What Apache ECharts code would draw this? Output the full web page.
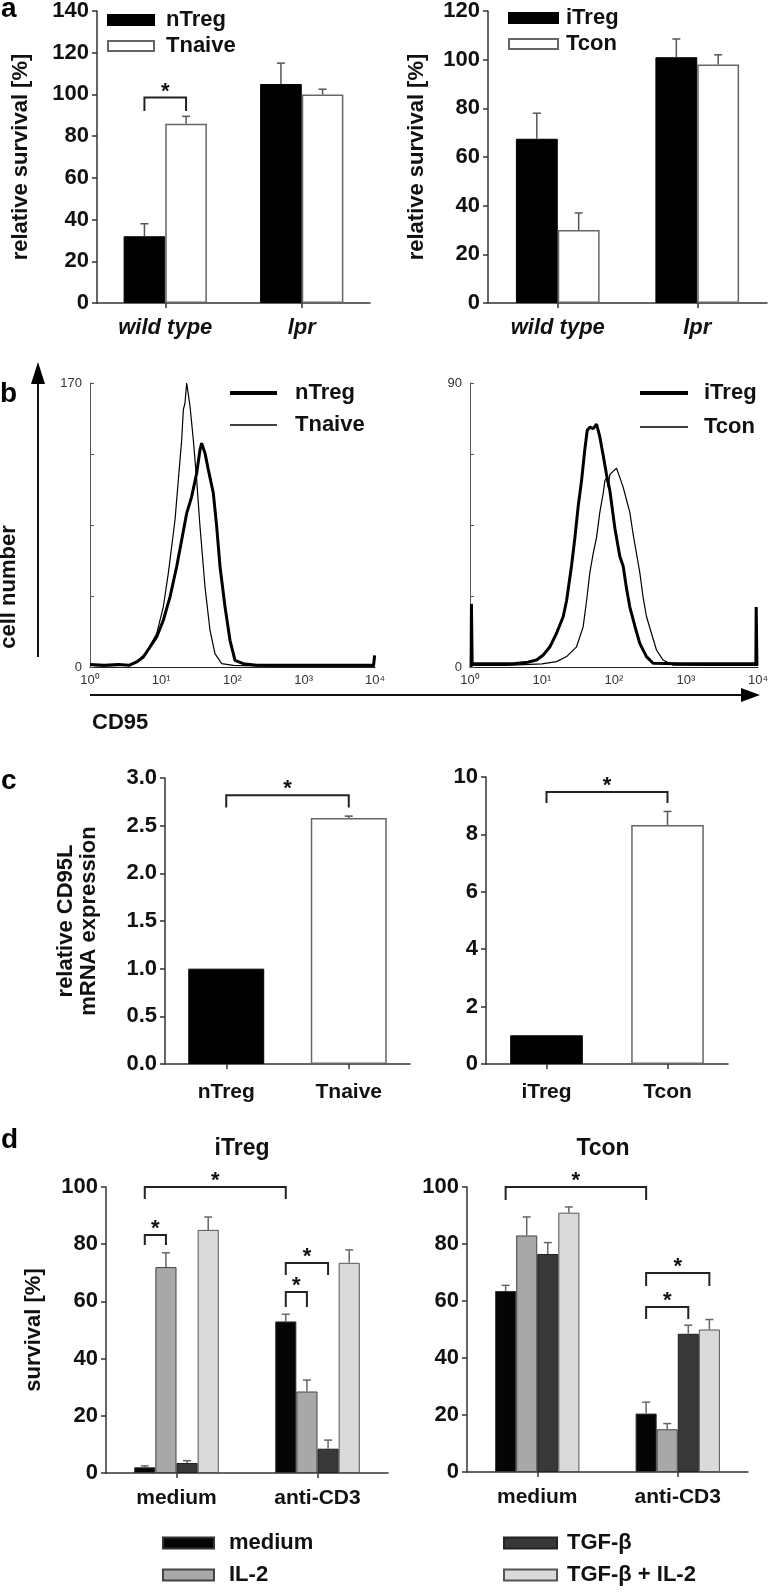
<!DOCTYPE html>
<html><head><meta charset="utf-8">
<script src="https://cdn.jsdelivr.net/npm/echarts@6/dist/echarts.min.js"></script>
<style>html,body{margin:0;padding:0;background:#fff}#c{width:779px;height:1592px}</style>
</head><body><div id="c"></div><script>
const FONT = '"Liberation Sans", Arial, Helvetica, sans-serif';

// ---------- panel a ----------
const aCats = ['wild type', 'lpr'];
const aLeftNames = ['nTreg', 'Tnaive'];
const nTregSurvival = [32, 105];
const nTregSurvivalErr = [38, 115];
const tnaiveSurvival = [86, 100];
const tnaiveSurvivalErr = [89.5, 102.5];
const aRightNames = ['iTreg', 'Tcon'];
const iTregSurvival = [67.5, 101];
const iTregSurvivalErr = [78, 108.5];
const tconSurvival = [30, 98];
const tconSurvivalErr = [37, 102];
const aLeftBrackets = [[0, 0, 0, 1, 98.5, 92]];

// ---------- panel b (x = log10 CD95 intensity, y = cell count) ----------
const bTickLabels = ['10\u2070', '10\u00b9', '10\u00b2', '10\u00b3', '10\u2074'];
const nTregHist = [[0,1.5],[0.2,1],[0.4,1.5],[0.55,1],[0.655,3],[0.749,6],[0.842,12],[0.936,18],[1.029,28],[1.123,42],[1.216,60],[1.287,76],[1.357,92],[1.427,102],[1.497,116],[1.544,130],[1.567,134],[1.614,128],[1.661,118],[1.731,104],[1.778,84],[1.825,60],[1.895,36],[1.965,16],[2.035,4],[2.152,2],[2.339,1],[2.7,1],[3.2,1],[3.7,1],[3.98,1],[3.995,7],[4,7]];
const tnaiveHist = [[0,1],[0.2,0.5],[0.4,1],[0.55,1.5],[0.655,3],[0.795,9],[0.936,20],[1.029,36],[1.099,56],[1.146,72],[1.193,88],[1.240,112],[1.287,136],[1.310,154],[1.333,158],[1.357,170],[1.404,156],[1.450,136],[1.497,112],[1.544,84],[1.614,48],[1.684,22],[1.754,8],[1.848,2],[2.012,1],[2.5,0.5],[3,0.5],[3.5,0.5],[4,0.5]];
const iTregHist = [[0.015,0],[0.02,20],[0.03,1],[0.3,1],[0.6,1],[0.8,1.5],[0.925,2.2],[1.017,3.8],[1.110,6.4],[1.202,10.7],[1.295,16],[1.341,21],[1.410,32],[1.457,41],[1.503,51],[1.549,59],[1.595,69],[1.628,75],[1.665,76],[1.711,75.5],[1.757,77],[1.803,73],[1.850,67],[1.896,61],[1.942,56],[2.012,44],[2.081,35],[2.127,32],[2.173,25],[2.220,19],[2.289,13],[2.358,7.5],[2.451,3.3],[2.543,1.2],[2.9,1],[3.3,1],[3.7,1],[3.97,1],[3.975,19],[3.985,0.5]];
const tconHist = [[0,0.5],[0.5,0.5],[1.0,1],[1.202,1.7],[1.341,3.3],[1.480,6.4],[1.572,12.8],[1.619,21],[1.665,30],[1.711,36],[1.757,41],[1.803,49],[1.850,55],[1.873,59],[1.896,60],[1.919,57],[1.942,61],[1.988,62],[2.035,63],[2.081,60],[2.127,57],[2.173,53],[2.220,49],[2.266,42],[2.312,36],[2.358,30],[2.405,22],[2.451,16],[2.520,10.7],[2.590,5.4],[2.682,2.2],[2.821,0.6],[3.3,0.5],[4,0.5]];

// ---------- panel c ----------
const cLeftCats = ['nTreg', 'Tnaive'];
const cLeftValues = [1.0, 2.58];
const cLeftErr = [null, 2.6];
const cRightCats = ['iTreg', 'Tcon'];
const cRightValues = [1.0, 8.33];
const cRightErr = [null, 8.8];
const cLeftBrackets = [[0, 0, 1, 0, 2.82, 2.69]];
const cRightBrackets = [[0, 0, 1, 0, 9.48, 9.09]];

// ---------- panel d ----------
const dCats = ['medium', 'anti-CD3'];
const dTreatments = ['medium', 'IL-2', 'TGF-\u03b2', 'TGF-\u03b2 + IL-2'];
const iTregMedium = [2, 53], iTregMediumErr = [2.5, 55.5];
const iTregIL2 = [72, 28.5], iTregIL2Err = [77, 32.5];
const iTregTGF = [3.5, 8.5], iTregTGFErr = [4.3, 11.5];
const iTregTGFIL2 = [85, 73.5], iTregTGFIL2Err = [89.5, 78];
const tconMedium = [63.5, 20.5], tconMediumErr = [65.5, 24.5];
const tconIL2 = [83, 15], tconIL2Err = [89.5, 17];
const tconTGF = [76.5, 48.5], tconTGFErr = [80.5, 51.5];
const tconTGFIL2 = [91, 50], tconTGFIL2Err = [93, 53.5];
const dLeftBrackets = [[0,0,1,0,100,95.8],[0,0,0,1,83.2,79.7],[1,0,1,2,73.4,69.2],[1,0,1,1,63.3,58.0]];
const dRightBrackets = [[0,0,1,0,100,95.4],[1,0,1,3,69.8,65.3],[1,0,1,2,57.9,53.7]];

// ---------- styles ----------
const blackBar = {color:'#000', borderColor:'#000', borderWidth:1};
const whiteBar = {color:'#fff', borderColor:'#666', borderWidth:1.5};
const dStyles = [
  {color:'#050505', borderColor:'#333', borderWidth:1},
  {color:'#a8a8a8', borderColor:'#444', borderWidth:1},
  {color:'#383838', borderColor:'#222', borderWidth:1},
  {color:'#dadada', borderColor:'#555', borderWidth:1}
];
const bold = (size) => ({fontFamily:FONT, fontWeight:'bold', fontSize:size, color:'#111'});

const grids = [
  {left:97, top:10, width:273, height:293},
  {left:488, top:10, width:279, height:293},
  {left:90, top:383, width:285, height:284},
  {left:470, top:383, width:288, height:284},
  {left:165, top:778, width:245, height:286},
  {left:486, top:777, width:242, height:287},
  {left:106, top:1187, width:282, height:286},
  {left:467, top:1187, width:281, height:285}
];

function valAxis(gi, min, max, interval, opts) {
  opts = opts || {};
  return {
    type:'value', gridIndex:gi, min, max, interval,
    splitLine:{show:false},
    axisLine:{show:true, lineStyle:{color:'#333', width:1.5}},
    axisTick:{show:true, length:5, lineStyle:{color:'#333', width:1.5}},
    axisLabel:Object.assign(bold(22), {margin:8}, opts.label || {}),
    name:opts.name || '', nameLocation:'middle', nameGap:opts.nameGap || 60,
    nameTextStyle:Object.assign(bold(22), {lineHeight:23})
  };
}
function catAxis(gi, data, label) {
  return {
    type:'category', gridIndex:gi, data,
    axisLine:{show:true, lineStyle:{color:'#333', width:1.5}},
    axisTick:{show:true, alignWithLabel:true, length:5, lineStyle:{color:'#333', width:1.5}},
    axisLabel:Object.assign(bold(21), label || {})
  };
}
function histXAxis(gi) {
  return {
    type:'value', gridIndex:gi, min:0, max:4, interval:1,
    splitLine:{show:false},
    axisLine:{show:true, lineStyle:{color:'#222', width:1}},
    axisTick:{show:false},
    axisLabel:{fontFamily:FONT, fontSize:13, color:'#333', margin:7, formatter:(v) => bTickLabels[v]}
  };
}
function histYAxis(gi, max) {
  return {
    type:'value', gridIndex:gi, min:0, max, interval:max / 4,
    splitLine:{show:false},
    axisLine:{show:true, lineStyle:{color:'#555', width:1}},
    axisTick:{show:true, inside:true, length:4, lineStyle:{color:'#555', width:1}},
    axisLabel:{fontFamily:FONT, fontSize:13, color:'#333', margin:8,
      formatter:(v) => (v === 0 || v === max) ? String(v) : ''}
  };
}

function barSeries(gi, name, values, style, gap) {
  return {type:'bar', name, xAxisIndex:gi, yAxisIndex:gi, data:values,
    barGap:'0%', barCategoryGap:gap, itemStyle:style, z:2};
}
function errItems(barIndex, values, errs) {
  const out = [];
  values.forEach((v, i) => { if (errs[i] != null) out.push([i, barIndex, v, errs[i]]); });
  return out;
}
function errorSeries(gi, n, gap, items, color) {
  return {type:'custom', xAxisIndex:gi, yAxisIndex:gi, z:5, silent:true,
    encode:{x:0, y:[2, 3]}, data:items,
    renderItem(params, api) {
      const cat = api.value(0), b = api.value(1), v = api.value(2), e = api.value(3);
      const band = api.size([1, 0])[0];
      const gw = band * (1 - gap), bw = gw / n;
      const base = api.coord([cat, v]);
      const cx = base[0] - gw / 2 + bw * (b + 0.5);
      const yTop = api.coord([cat, e])[1];
      const st = {stroke:color || '#555', lineWidth:1.5};
      return {type:'group', children:[
        {type:'line', shape:{x1:cx, y1:base[1], x2:cx, y2:yTop}, style:st},
        {type:'line', shape:{x1:cx - 4, y1:yTop, x2:cx + 4, y2:yTop}, style:st}
      ]};
    }};
}
function bracketSeries(gi, n, gap, items) {
  return {type:'custom', xAxisIndex:gi, yAxisIndex:gi, z:6, silent:true, clip:false,
    encode:{x:[0, 2], y:[4, 5]}, data:items,
    renderItem(params, api) {
      const band = api.size([1, 0])[0], gw = band * (1 - gap), bw = gw / n;
      const xAt = (c, b) => api.coord([c, 0])[0] - gw / 2 + bw * (b + 0.5);
      const x1 = xAt(api.value(0), api.value(1)), x2 = xAt(api.value(2), api.value(3));
      const yT = api.coord([0, api.value(4)])[1], yL = api.coord([0, api.value(5)])[1];
      return {type:'group', children:[
        {type:'polyline', shape:{points:[[x1, yL], [x1, yT], [x2, yT], [x2, yL]]},
          style:{stroke:'#222', lineWidth:2, fill:null}},
        {type:'text', x:(x1 + x2) / 2, y:yT - 6,
          style:{text:'*', font:'bold 22px ' + FONT, fill:'#111', textAlign:'center', textVerticalAlign:'middle'}}
      ]};
    }};
}
function histSeries(gi, name, data, width) {
  return {type:'line', name, xAxisIndex:gi, yAxisIndex:gi, data, showSymbol:false, symbol:'none',
    lineStyle:{color:'#000', width}, itemStyle:{color:'#000'}, z:3};
}
function legendBox(names, left, top, w, h, gapY, padL, icon) {
  return {data:names, left, top, orient:'vertical', padding:0, itemWidth:w, itemHeight:h, itemGap:gapY,
    icon:icon || 'rect', selectedMode:false,
    textStyle:Object.assign(bold(22), {lineHeight:22, padding:[0, 0, 0, padL]}),
    formatter:(n) => n.replace(' histogram', '')};
}

const series = [];
// a-left
series.push(barSeries(0, aLeftNames[0], nTregSurvival, blackBar, '39%'));
series.push(barSeries(0, aLeftNames[1], tnaiveSurvival, whiteBar, '39%'));
series.push(errorSeries(0, 2, 0.39, errItems(0, nTregSurvival, nTregSurvivalErr).concat(errItems(1, tnaiveSurvival, tnaiveSurvivalErr)), '#555'));
series.push(bracketSeries(0, 2, 0.39, aLeftBrackets));
// a-right
series.push(barSeries(1, aRightNames[0], iTregSurvival, blackBar, '40%'));
series.push(barSeries(1, aRightNames[1], tconSurvival, whiteBar, '40%'));
series.push(errorSeries(1, 2, 0.40, errItems(0, iTregSurvival, iTregSurvivalErr).concat(errItems(1, tconSurvival, tconSurvivalErr)), '#555'));
// b
series.push(histSeries(2, 'Tnaive histogram', tnaiveHist, 1.2));
series.push(histSeries(2, 'nTreg histogram', nTregHist, 3));
series.push(histSeries(3, 'Tcon histogram', tconHist, 1.2));
series.push(histSeries(3, 'iTreg histogram', iTregHist, 3));
// c
const cStyles = [blackBar, whiteBar];
series.push(barSeries(4, 'CD95L nTreg/Tnaive', cLeftValues.map((v, i) => ({value:v, itemStyle:cStyles[i]})), {}, '38%'));
series.push(errorSeries(4, 1, 0.38, errItems(0, cLeftValues, cLeftErr), '#555'));
series.push(bracketSeries(4, 1, 0.38, cLeftBrackets));
series.push(barSeries(5, 'CD95L iTreg/Tcon', cRightValues.map((v, i) => ({value:v, itemStyle:cStyles[i]})), {}, '40%'));
series.push(errorSeries(5, 1, 0.40, errItems(0, cRightValues, cRightErr), '#555'));
series.push(bracketSeries(5, 1, 0.40, cRightBrackets));
// d
const dLeftVals = [iTregMedium, iTregIL2, iTregTGF, iTregTGFIL2];
const dLeftErrs = [iTregMediumErr, iTregIL2Err, iTregTGFErr, iTregTGFIL2Err];
const dRightVals = [tconMedium, tconIL2, tconTGF, tconTGFIL2];
const dRightErrs = [tconMediumErr, tconIL2Err, tconTGFErr, tconTGFIL2Err];
let dlItems = [], drItems = [];
dTreatments.forEach((t, i) => {
  series.push(barSeries(6, t, dLeftVals[i], dStyles[i], '40%'));
  series.push(barSeries(7, t, dRightVals[i], dStyles[i], '40%'));
  dlItems = dlItems.concat(errItems(i, dLeftVals[i], dLeftErrs[i]));
  drItems = drItems.concat(errItems(i, dRightVals[i], dRightErrs[i]));
});
series.push(errorSeries(6, 4, 0.40, dlItems, '#666'));
series.push(errorSeries(7, 4, 0.40, drItems, '#666'));
series.push(bracketSeries(6, 4, 0.40, dLeftBrackets));
series.push(bracketSeries(7, 4, 0.40, dRightBrackets));

const xAxis = [
  catAxis(0, aCats, {fontStyle:'italic', margin:14, fontSize:22}),
  catAxis(1, aCats, {fontStyle:'italic', margin:14, fontSize:22}),
  histXAxis(2), histXAxis(3),
  catAxis(4, cLeftCats, {margin:18}),
  catAxis(5, cRightCats, {margin:18}),
  catAxis(6, dCats, {margin:15}),
  catAxis(7, dCats, {margin:15})
];
const yAxis = [
  valAxis(0, 0, 140, 20, {name:'relative survival [%]', nameGap:65}),
  valAxis(1, 0, 120, 20, {name:'relative survival [%]', nameGap:60}),
  histYAxis(2, 170), histYAxis(3, 90),
  valAxis(4, 0, 3, 0.5, {name:'relative CD95L\nmRNA expression', nameGap:65, label:{formatter:(v) => v.toFixed(1)}}),
  valAxis(5, 0, 10, 2, {}),
  valAxis(6, 0, 100, 20, {name:'survival [%]', nameGap:61}),
  valAxis(7, 0, 100, 20, {})
];

const legend = [
  legendBox(aLeftNames, 107, 9, 46, 10, 4, 7),
  legendBox(aRightNames, 508, 7, 49, 10, 4, 3),
  legendBox(['nTreg histogram'], 230, 382, 47, 4, 4, 13),
  legendBox(['Tnaive histogram'], 230, 414, 47, 1.5, 4, 13),
  legendBox(['iTreg histogram'], 640, 382, 48, 4, 4, 11),
  legendBox(['Tcon histogram'], 640, 416, 48, 1.5, 4, 11),
  legendBox([dTreatments[0], dTreatments[1]], 162, 1532, 51, 11, 10, 10),
  legendBox([dTreatments[2], dTreatments[3]], 503, 1532, 53, 11, 10, 5)
];

const title = [
  {text:'iTreg', left:237, top:1132, textAlign:'center', textStyle:bold(23)},
  {text:'Tcon', left:598, top:1132, textAlign:'center', textStyle:bold(23)}
];

const letter = (t, x, y) => ({type:'text', x, y, style:{text:t, font:'bold 28px ' + FONT, fill:'#000', textAlign:'left', textVerticalAlign:'middle'}});
const graphic = [
  letter('a', 1, 9), letter('b', 0, 394), letter('c', 1, 781), letter('d', 1, 1140),
  {type:'line', shape:{x1:38, y1:657, x2:38, y2:378}, style:{stroke:'#111', lineWidth:2}},
  {type:'polygon', shape:{points:[[38, 362], [31, 384], [45, 384]]}, style:{fill:'#000'}},
  {type:'line', shape:{x1:90, y1:695, x2:746, y2:695}, style:{stroke:'#111', lineWidth:2}},
  {type:'polygon', shape:{points:[[760, 695], [741, 688], [741, 702]]}, style:{fill:'#000'}},
  {type:'text', x:9, y:587, rotation:Math.PI / 2,
    style:{text:'cell number', font:'bold 22px ' + FONT, fill:'#111', textAlign:'center', textVerticalAlign:'middle'}},
  {type:'text', x:92, y:723,
    style:{text:'CD95', font:'bold 22px ' + FONT, fill:'#111', textAlign:'left', textVerticalAlign:'middle'}}
];

const chart = echarts.init(document.getElementById('c'), null, {renderer:'canvas', width:779, height:1592});
chart.setOption({
  animation:false,
  backgroundColor:'#fff',
  textStyle:{fontFamily:FONT},
  grid:grids, xAxis, yAxis, series, legend, title, graphic
});
</script></body></html>
